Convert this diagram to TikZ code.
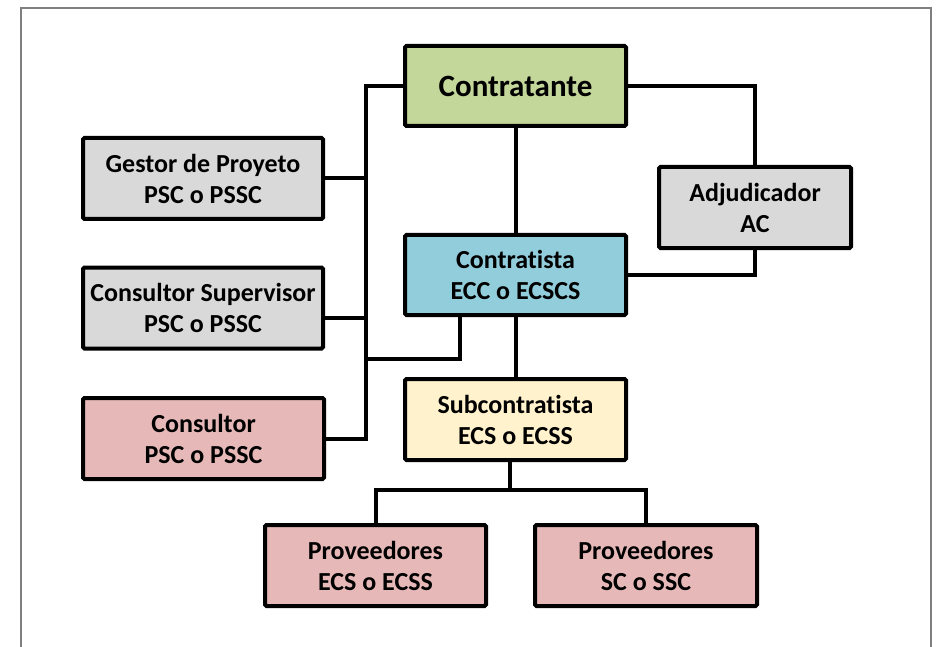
\documentclass[tikz,border=0pt]{standalone}
\usepackage{fontspec}
\setmainfont[Ligatures=NoCommon]{Carlito}
\definecolor{cgreen}{HTML}{C4D79B}
\definecolor{cblue}{HTML}{92CDDC}
\definecolor{cgray}{HTML}{D9D9D9}
\definecolor{cpink}{HTML}{E6B9B8}
\definecolor{cyellow}{HTML}{FFF2CC}
\definecolor{frame}{HTML}{7F7F7F}
\begin{document}
\begin{tikzpicture}[x=1pt,y=-1pt,
  box/.style={draw=black,line width=4pt,rounded corners=1.5pt,inner sep=0pt,
    minimum height=81pt,align=center,font=\bfseries\fontsize{26}{31}\selectfont},
  conn/.style={line width=4pt,line join=miter}]
\useasboundingbox (0,0) rectangle (937,647);
\draw[frame,line width=2pt] (21,8) -- (931,8) -- (931,670) -- (21,670) -- cycle;

\node[box,fill=cgreen,minimum width=221pt,minimum height=80pt,font=\bfseries\fontsize{31}{36}\selectfont] (C) at (515.5,86) {Contratante};
\node[box,fill=cgray,minimum width=240pt] (G) at (203,178.5) {Gestor de Proyeto\\PSC o PSSC};
\node[box,fill=cgray,minimum width=240pt] (S) at (203,308) {Consultor Supervisor\\PSC o PSSC};
\node[box,fill=cpink,minimum width=241pt] (K) at (203.5,438.5) {Consultor\\PSC o PSSC};
\node[box,fill=cgray,minimum width=192pt] (A) at (755,207.5) {Adjudicador\\AC};
\node[box,fill=cblue,minimum width=221pt,minimum height=80pt] (T) at (515.5,275) {Contratista\\ECC o ECSCS};
\node[box,fill=cyellow,minimum width=221pt] (U) at (515.5,419.5) {Subcontratista\\ECS o ECSS};
\node[box,fill=cpink,minimum width=221pt] (P1) at (375.5,565.5) {Proveedores\\ECS o ECSS};
\node[box,fill=cpink,minimum width=222pt] (P2) at (646,565.5) {Proveedores\\SC o SSC};

\coordinate (bt) at (366,87);
\coordinate (bj) at (366,359);
\coordinate (j) at (510,490);

\draw[conn] (C.west) -- (C.west -| bt) -- (bt |- K.east) -- (K.east);
\draw[conn] (G.east) -- (G.east -| bt);
\draw[conn] ([yshift=-10pt]S.east) -- ([yshift=-10pt]S.east -| bt);
\draw[conn] ([xshift=-56pt]T.south) |- (bj);
\draw[conn] (C.south) -- (T.north);
\draw[conn] (C.east) -| (A.north);
\draw[conn] (A.south) |- (T.east);
\draw[conn] (T.south) -- (U.north);
\draw[conn] (U.south -| j) -- (j);
\draw[conn] (P1.north) |- (j) -| (P2.north);
\end{tikzpicture}
\end{document}
